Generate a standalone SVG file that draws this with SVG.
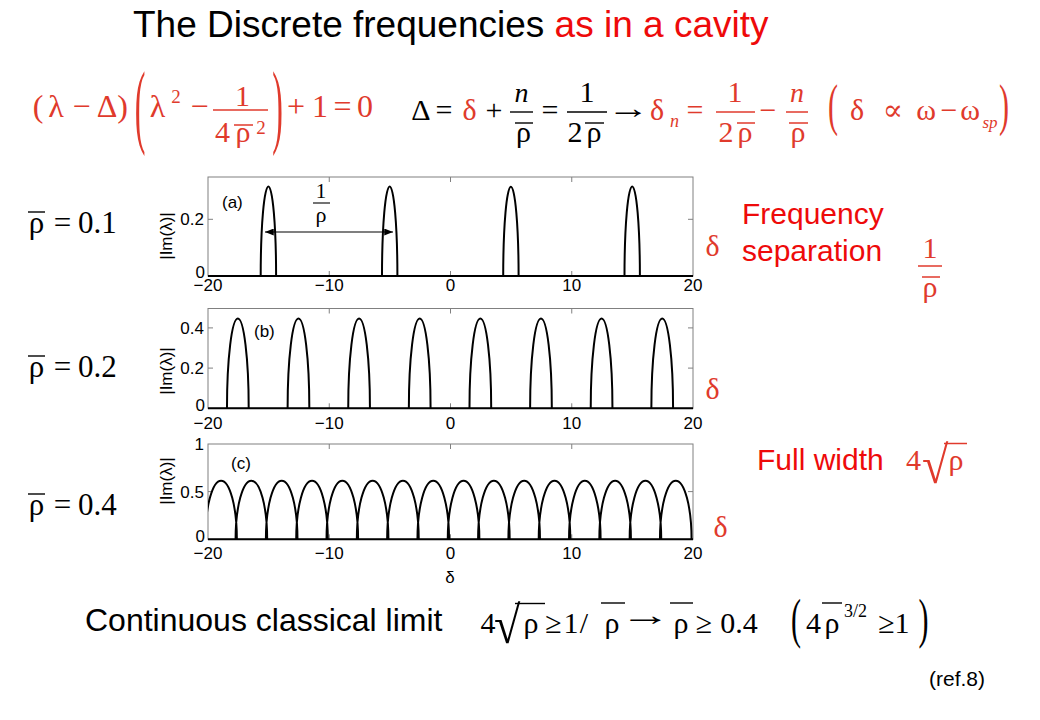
<svg xmlns="http://www.w3.org/2000/svg" width="1040" height="720" viewBox="0 0 1040 720">
<style>
.sans{font-family:"Liberation Sans",Arial,sans-serif}
.serif{font-family:"Liberation Serif","Times New Roman","DejaVu Serif",serif}
.eqr{fill:#e03a2c}
.brt{fill:#ee0a0a}
.blk{fill:#000}
.mid{text-anchor:middle}
.it{font-style:italic}
.tk{font-family:"Liberation Sans",Arial,sans-serif;font-size:17px;fill:#000}
.tkm{font-family:"Liberation Sans",Arial,sans-serif;font-size:17px;fill:#000;text-anchor:middle}
.tkr{font-family:"Liberation Sans",Arial,sans-serif;font-size:17px;fill:#000;text-anchor:end}
.box{fill:none;stroke:#808080;stroke-width:1}
.tic{stroke:#808080;stroke-width:1}
.crv{fill:none;stroke:#000;stroke-width:2}
.zl{stroke:#000;stroke-width:2}
.barr{stroke:#e03a2c;stroke-width:1.5}
.barb{stroke:#000;stroke-width:1.4}
</style>
<defs>
<marker id="ah" viewBox="0 0 10 8" refX="10" refY="4" markerWidth="9" markerHeight="7" markerUnits="userSpaceOnUse" orient="auto-start-reverse">
<path d="M0,0 L10,4 L0,8 z" fill="#000"/>
</marker>
<clipPath id="clipc"><rect x="208" y="440" width="485" height="102"/></clipPath>
</defs>
<rect width="1040" height="720" fill="#fff"/>

<g id="title">
<text x="133" y="37" font-size="37" class="sans blk">The Discrete frequencies <tspan class="brt">as in a cavity</tspan></text>
</g>

<g id="eq1" class="serif eqr" font-size="32">
<text x="38" y="117" class="mid">(</text>
<text x="56" y="117" class="mid">λ</text>
<text x="81.5" y="117" class="mid">−</text>
<text x="107" y="117" class="mid">Δ</text>
<text x="122.5" y="117" class="mid">)</text>
<text transform="translate(140,135.6) scale(1,2.894)" class="mid">(</text>
<text x="157.5" y="117" class="mid">λ</text>
<text x="176" y="103" class="mid" font-size="19">2</text>
<text x="199.5" y="117" class="mid">−</text>
<text x="242.5" y="106" class="mid" font-size="30">1</text>
<line x1="213" y1="110" x2="268" y2="110" class="barr"/>
<text x="222.5" y="142" class="mid" font-size="30">4</text>
<text x="243" y="142" class="mid" font-size="30">ρ</text>
<line x1="234" y1="125" x2="253" y2="125" class="barr"/>
<text x="261" y="134" class="mid" font-size="19">2</text>
<text transform="translate(277.5,135.6) scale(1,2.894)" class="mid">)</text>
<text x="296" y="117" class="mid">+</text>
<text x="320" y="117" class="mid">1</text>
<text x="342.5" y="117" class="mid">=</text>
<text x="365" y="117" class="mid">0</text>
</g>

<g id="eq2" class="serif" font-size="30">
<text x="421" y="120" class="mid blk">Δ</text>
<text x="444" y="120" class="mid blk">=</text>
<text x="469.5" y="120" class="mid eqr">δ</text>
<text x="494" y="120" class="mid blk">+</text>
<text x="521.5" y="102" class="mid blk it" font-size="28">n</text>
<line x1="510" y1="112" x2="533" y2="112" class="barb"/>
<text x="523.5" y="142" class="mid blk">ρ</text>
<line x1="515" y1="123" x2="533" y2="123" class="barb"/>
<text x="550" y="120" class="mid blk">=</text>
<text x="587" y="102" class="mid blk">1</text>
<line x1="567" y1="112" x2="607" y2="112" class="barb"/>
<text x="575" y="142" class="mid blk">2</text>
<text x="594" y="142" class="mid blk">ρ</text>
<line x1="585" y1="123" x2="604" y2="123" class="barb"/>
<text transform="translate(607,117.5) scale(1.42,1)" class="blk">→</text>
<text x="657" y="120" class="mid eqr">δ</text>
<text x="674.5" y="127" class="mid eqr it" font-size="18">n</text>
<text x="695" y="120" class="mid eqr">=</text>
<text x="735" y="102" class="mid eqr">1</text>
<line x1="716" y1="112" x2="755" y2="112" class="barr"/>
<text x="726" y="142" class="mid eqr">2</text>
<text x="745" y="142" class="mid eqr">ρ</text>
<line x1="737" y1="123" x2="755" y2="123" class="barr"/>
<text x="768" y="120" class="mid eqr">−</text>
<text x="797" y="102" class="mid eqr it" font-size="28">n</text>
<line x1="786" y1="112" x2="808" y2="112" class="barr"/>
<text x="798" y="142" class="mid eqr">ρ</text>
<line x1="789" y1="123" x2="808" y2="123" class="barr"/>
<text transform="translate(833,124) scale(1,1.876)" class="mid eqr">(</text>
<text x="857" y="120" class="mid eqr">δ</text>
<text x="893" y="120" class="mid eqr">∝</text>
<text x="926" y="120" class="mid eqr">ω</text>
<text x="949" y="120" class="mid eqr">−</text>
<text x="970" y="120" class="mid eqr">ω</text>
<text x="990" y="128" class="mid eqr it" font-size="17">sp</text>
<text transform="translate(1004,124) scale(1,1.876)" class="mid eqr">)</text>
</g>

<g id="rho-labels" class="serif blk" font-size="31">
<text x="36.5" y="233" class="mid">ρ</text>
<line x1="28" y1="212" x2="45" y2="212" class="barb"/>
<text x="62.5" y="233" class="mid">=</text>
<text x="78" y="233">0.1</text>
<text x="36.5" y="377" class="mid">ρ</text>
<line x1="28" y1="356" x2="45" y2="356" class="barb"/>
<text x="62.5" y="377" class="mid">=</text>
<text x="78" y="377">0.2</text>
<text x="36.5" y="515" class="mid">ρ</text>
<line x1="28" y1="494" x2="45" y2="494" class="barb"/>
<text x="62.5" y="515" class="mid">=</text>
<text x="78" y="515">0.4</text>
</g>

<g id="plot-a">
<rect x="208" y="177" width="485" height="99" class="box"/>
<path class="tic" d="M329.25,276v-5M450.5,276v-5M571.75,276v-5M329.25,177v5M450.5,177v5M571.75,177v5M208,219.3h5M693,219.3h-5"/>
<line x1="208" y1="276" x2="693" y2="276" class="zl"/>
<path class="crv" d="M260.7,276 A7.7,89.6 0 0 1 276.1,276 M382,276 A7.7,89.6 0 0 1 397.4,276 M503.2,276 A7.7,89.6 0 0 1 518.6,276 M624.5,276 A7.7,89.6 0 0 1 639.9,276"/>
<text x="208" y="291" class="tkm">−20</text>
<text x="329.25" y="291" class="tkm">−10</text>
<text x="450.5" y="291" class="tkm">0</text>
<text x="571.75" y="291" class="tkm">10</text>
<text x="693" y="291" class="tkm">20</text>
<text x="205" y="278" class="tkr">0</text>
<text x="204" y="225" class="tkr">0.2</text>
<text transform="translate(172,236) rotate(-90)" class="tkm">|Im(λ)|</text>
<text x="222" y="208" class="tk" font-size="16">(a)</text>
<text x="321" y="198" class="serif mid blk" font-size="21">1</text>
<line x1="313" y1="203" x2="330" y2="203" stroke="#000" stroke-width="1.1"/>
<text x="321" y="222" class="serif mid blk" font-size="22">ρ</text>
</g>

<g id="plot-b">
<rect x="208" y="308.5" width="485" height="99.8" class="box"/>
<path class="tic" d="M329.25,408.3v-5M450.5,408.3v-5M571.75,408.3v-5M329.25,308.5v5M450.5,308.5v5M571.75,308.5v5M208,368.1h5M208,327.9h5M693,368.1h-5M693,327.9h-5"/>
<line x1="208" y1="408.3" x2="693" y2="408.3" class="zl"/>
<path class="crv" d="M226.98,408.3 A10.86,89.8 0 0 1 248.7,408.3 M287.61,408.3 A10.86,89.8 0 0 1 309.33,408.3 M348.23,408.3 A10.86,89.8 0 0 1 369.95,408.3 M408.86,408.3 A10.86,89.8 0 0 1 430.58,408.3 M469.48,408.3 A10.86,89.8 0 0 1 491.2,408.3 M530.11,408.3 A10.86,89.8 0 0 1 551.83,408.3 M590.73,408.3 A10.86,89.8 0 0 1 612.45,408.3 M651.36,408.3 A10.86,89.8 0 0 1 673.08,408.3"/>
<text x="208" y="429" class="tkm">−20</text>
<text x="329.25" y="429" class="tkm">−10</text>
<text x="450.5" y="429" class="tkm">0</text>
<text x="571.75" y="429" class="tkm">10</text>
<text x="693" y="429" class="tkm">20</text>
<text x="205" y="411" class="tkr">0</text>
<text x="204" y="374" class="tkr">0.2</text>
<text x="204" y="334" class="tkr">0.4</text>
<text transform="translate(172,371) rotate(-90)" class="tkm">|Im(λ)|</text>
<text x="254" y="337" class="tk" font-size="16">(b)</text>
</g>

<g id="plot-c">
<rect x="208" y="444" width="485" height="95.3" class="box"/>
<path class="tic" d="M329.25,539.3v-5M450.5,539.3v-5M571.75,539.3v-5M329.25,444v5M450.5,444v5M571.75,444v5M208,491.6h5M693,491.6h-5"/>
<line x1="208" y1="539.3" x2="693" y2="539.3" class="zl"/>
<g clip-path="url(#clipc)">
<path class="crv" d="M205.28,539.3 A15.79,58.6 0 0 1 236.86,539.3 M235.59,539.3 A15.79,58.6 0 0 1 267.17,539.3 M265.9,539.3 A15.79,58.6 0 0 1 297.48,539.3 M296.22,539.3 A15.79,58.6 0 0 1 327.8,539.3 M326.53,539.3 A15.79,58.6 0 0 1 358.11,539.3 M356.84,539.3 A15.79,58.6 0 0 1 388.42,539.3 M387.15,539.3 A15.79,58.6 0 0 1 418.73,539.3 M417.47,539.3 A15.79,58.6 0 0 1 449.05,539.3 M447.78,539.3 A15.79,58.6 0 0 1 479.36,539.3 M478.09,539.3 A15.79,58.6 0 0 1 509.67,539.3 M508.4,539.3 A15.79,58.6 0 0 1 539.98,539.3 M538.72,539.3 A15.79,58.6 0 0 1 570.3,539.3 M569.03,539.3 A15.79,58.6 0 0 1 600.61,539.3 M599.34,539.3 A15.79,58.6 0 0 1 630.92,539.3 M629.65,539.3 A15.79,58.6 0 0 1 661.23,539.3 M659.97,539.3 A15.79,58.6 0 0 1 691.55,539.3"/>
</g>
<text x="208" y="559" class="tkm">−20</text>
<text x="329.25" y="559" class="tkm">−10</text>
<text x="450.5" y="559" class="tkm">0</text>
<text x="571.75" y="559" class="tkm">10</text>
<text x="693" y="559" class="tkm">20</text>
<text x="205" y="542" class="tkr">0</text>
<text x="204" y="497.5" class="tkr">0.5</text>
<text x="204" y="450" class="tkr">1</text>
<text transform="translate(172,481) rotate(-90)" class="tkm">|Im(λ)|</text>
<text x="231" y="469" class="tk" font-size="16">(c)</text>
<text x="450" y="583" class="tkm" font-size="16">δ</text>
</g>

<g id="connectors">
<line x1="265" y1="232" x2="393" y2="232" stroke="#000" stroke-width="1.2" marker-start="url(#ah)" marker-end="url(#ah)"/>
</g>

<g id="right-labels">
<text x="712.5" y="256" class="serif mid eqr" font-size="30">δ</text>
<text x="712.5" y="399" class="serif mid eqr" font-size="30">δ</text>
<text x="720.5" y="537" class="serif mid eqr" font-size="30">δ</text>
<text x="742" y="224" class="sans brt" font-size="30">Frequency</text>
<text x="742" y="261" class="sans brt" font-size="30">separation</text>
<text x="930" y="258" class="serif mid eqr" font-size="30">1</text>
<line x1="918" y1="266" x2="942" y2="266" class="barr"/>
<text x="930" y="297" class="serif mid eqr" font-size="30">ρ</text>
<line x1="922" y1="277" x2="940" y2="277" class="barr"/>
<text x="757" y="470" class="sans brt" font-size="30">Full width</text>
<text x="913.5" y="470" class="serif mid eqr" font-size="30">4</text>
<text transform="translate(922,483) scale(1.5,1.65)" class="serif eqr" font-size="32">√</text>
<line x1="944" y1="443.5" x2="967" y2="443.5" class="barr"/>
<text x="956" y="470" class="serif mid eqr" font-size="30">ρ</text>
</g>

<g id="limit">
<text x="85" y="631" class="sans blk" font-size="32">Continuous classical limit</text>
<g class="serif blk" font-size="30">
<text x="488" y="633" class="mid">4</text>
<text transform="translate(494,643) scale(1.5,1.65)" font-size="32">√</text>
<line x1="515" y1="603.5" x2="545" y2="603.5" class="barb"/>
<text x="531" y="633" class="mid">ρ</text>
<text x="553.5" y="633" class="mid">≥</text>
<text x="571" y="633" class="mid">1</text>
<text x="584" y="633" class="mid">/</text>
<text x="612" y="633" class="mid">ρ</text>
<line x1="601" y1="603" x2="625" y2="603" class="barb"/>
<text transform="translate(620,625) scale(1.7,1)">→</text>
<text x="681" y="633" class="mid">ρ</text>
<line x1="670" y1="603" x2="693" y2="603" class="barb"/>
<text x="704" y="633" class="mid">≥</text>
<text x="739" y="633" class="mid">0.4</text>
<text transform="translate(796,637.3) scale(1,1.837)" class="mid">(</text>
<text x="813.5" y="633" class="mid">4</text>
<text x="832" y="633" class="mid">ρ</text>
<line x1="822" y1="603" x2="842" y2="603" class="barb"/>
<text x="855.5" y="617" class="mid" font-size="18">3/2</text>
<text x="886.5" y="633" class="mid">≥</text>
<text x="902" y="633" class="mid">1</text>
<text transform="translate(923.5,637.3) scale(1,1.837)" class="mid">)</text>
</g>
</g>

<g id="ref">
<text x="929" y="686" class="sans blk" font-size="21">(ref.8)</text>
</g>
</svg>
